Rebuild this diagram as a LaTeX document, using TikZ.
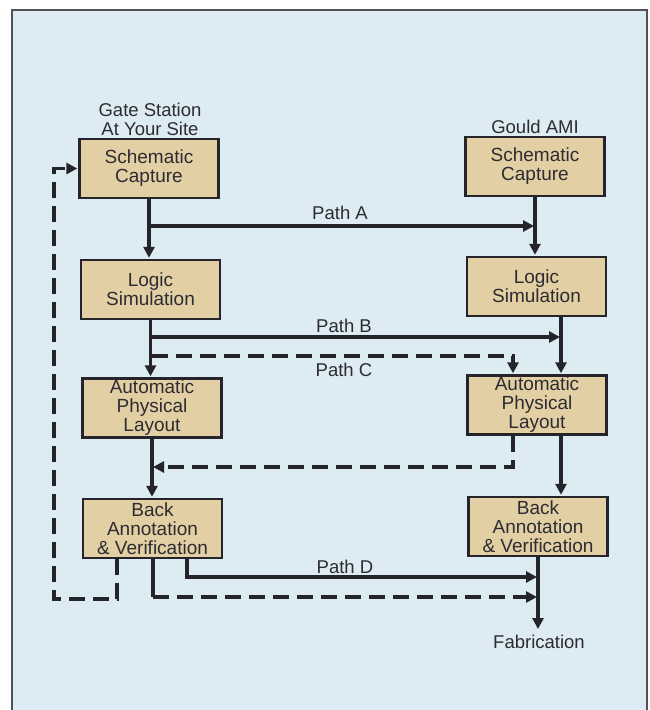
\documentclass[tikz,border=0pt]{standalone}
\usepackage{fontspec}
\setmainfont{Liberation Sans}
\usetikzlibrary{arrows.meta}
\definecolor{bgblue}{RGB}{221,235,242}
\definecolor{boxtan}{RGB}{226,207,163}
\definecolor{ink}{RGB}{36,36,42}
\definecolor{txt}{RGB}{44,44,50}
\begin{document}
\begin{tikzpicture}[x=1pt,y=-1pt,
  stagebox/.style={draw=ink,line width=2.4pt,fill=boxtan,minimum width=139pt,minimum height=59pt,
    inner sep=0pt,align=center,text=txt,font=\fontsize{19pt}{19pt}\selectfont},
  lbl/.style={text=txt,align=center,inner sep=0pt,font=\fontsize{18.5pt}{19pt}\selectfont},
  conn/.style={draw=ink,line width=3.4pt},
  arr/.style={conn,-{Triangle[length=11pt,width=11pt]},shorten >=1pt},
  darr/.style={conn,dash pattern=on 16pt off 8pt,-{Triangle[length=11pt,width=11pt]},shorten >=1pt},
  dline/.style={conn,dash pattern=on 16pt off 8pt}]
\useasboundingbox (0,0) rectangle (650,710);
\fill[white] (0,0) rectangle (650,710);
\draw[fill=bgblue,draw=ink!80,line width=1.8pt] (12,10) rectangle (647,720);

% titles
\node[lbl] (tL) at (150,119.5) {Gate Station\\At Your Site};
\node[lbl] (tR) at (535,127) {Gould AMI};

% boxes
\node[stagebox] (scL) at (149,168.5) {Schematic\\Capture};
\node[stagebox] (lsL) at (150.5,289.5) {Logic\\Simulation};
\node[stagebox] (aplL) at (152,408) {Automatic\\Physical\\Layout};
\node[stagebox] (baL) at (152.5,528.5) {Back\\Annotation\\\& Verification};
\node[stagebox] (scR) at (535,166.5) {Schematic\\Capture};
\node[stagebox] (lsR) at (536.5,286.5) {Logic\\Simulation};
\node[stagebox] (aplR) at (537,405) {Automatic\\Physical\\Layout};
\node[stagebox] (baR) at (538,526.5) {Back\\Annotation\\\& Verification};

% helper coordinates
\coordinate (yA) at (0,226);
\coordinate (yB) at (0,337);
\coordinate (yC) at (0,356);
\coordinate (yR) at (0,467);
\coordinate (yD) at (0,577);
\coordinate (yE) at (0,597);
\coordinate (yF) at (0,599);
\coordinate (xR2) at (561,0);
\coordinate (xC) at (513,0);
\coordinate (xD) at (187,0);
\coordinate (xE) at (153,0);
\coordinate (xF) at (117,0);
\coordinate (xG) at (54,0);
\coordinate (fab) at (538,630);

% left column
\draw[arr] (scL.south) -- (scL.south |- lsL.north);
\draw[arr] (lsL.south) -- (lsL.south |- aplL.north);
\draw[arr] (aplL.south) -- (aplL.south |- baL.north);

% right column
\draw[arr] (scR.south) -- (scR.south |- lsR.north);
\draw[arr] (lsR.south -| xR2) -- (aplR.north -| xR2);
\draw[arr] (aplR.south -| xR2) -- (baR.north -| xR2);
\draw[arr] (baR.south) -- (fab);

% Path A
\draw[arr] (scL.south |- yA) -- (scR.south |- yA);
% Path B
\draw[arr] (lsL.south |- yB) -- (xR2 |- yB);
% Path C
\draw[darr] (aplL.north |- yC) -- (xC |- yC) -- (aplR.north -| xC);
\draw[darr] (aplR.south -| xC) -- (xC |- yR) -- (aplL.south |- yR);
% Path D
\draw[arr] (baL.south -| xD) -- (xD |- yD) -- (baR.south |- yD);
\draw[conn] (baL.south -| xE) -- (xE |- yE);
\draw[darr] (xE |- yE) -- (baR.south |- yE);
% feedback
\draw[darr] (baL.south -| xF) -- (xF |- yF) -- (xG |- yF) -- (xG |- scL.west) -- (scL.west);

% labels
\node[lbl] (pA) at (340,213) {Path A};
\node[lbl] (pB) at (344,326) {Path B};
\node[lbl] (pC) at (344,370) {Path C};
\node[lbl] (pD) at (345,567) {Path D};
\node[lbl] (fabt) at (539,642) {Fabrication};
\end{tikzpicture}
\end{document}
